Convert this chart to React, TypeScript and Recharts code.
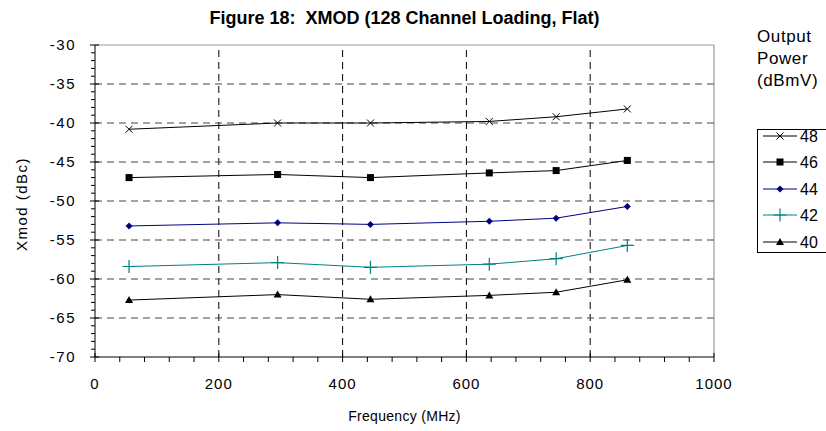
import { LineChart, Line, XAxis, YAxis, ReferenceLine } from 'recharts'

const frequencies = [55, 295, 445, 637, 745, 860]
const xmod48 = [-40.8, -40.0, -40.0, -39.8, -39.2, -38.2]
const xmod46 = [-47.0, -46.6, -47.0, -46.4, -46.1, -44.8]
const xmod44 = [-53.2, -52.8, -53.0, -52.6, -52.2, -50.7]
const xmod42 = [-58.4, -57.9, -58.5, -58.1, -57.4, -55.7]
const xmod40 = [-62.7, -62.0, -62.6, -62.1, -61.7, -60.1]

const xMajor = [0, 200, 400, 600, 800, 1000]
const yMajor = [-70, -65, -60, -55, -50, -45, -40, -35, -30]
// minor ticks: 40 MHz and 1 dB
const xTicks = Array.from({ length: 26 }, (_, i) => i * 40)
const yTicks = Array.from({ length: 41 }, (_, i) => -70 + i)

const font = '"Liberation Sans", Arial, sans-serif'

const chartData = frequencies.map((f, i) => ({
  freq: f,
  p48: xmod48[i],
  p46: xmod46[i],
  p44: xmod44[i],
  p42: xmod42[i],
  p40: xmod40[i],
}))

type Marker = 'cross' | 'square' | 'diamond' | 'plus' | 'triangle'

function markerShape(kind: Marker, cx: number, cy: number, color: string, key?: string) {
  if (kind === 'cross') {
    const r = 3.5
    return (
      <path key={key} d={`M${cx - r},${cy - r}L${cx + r},${cy + r}M${cx - r},${cy + r}L${cx + r},${cy - r}`}
        stroke={color} strokeWidth={1} fill="none" />
    )
  }
  if (kind === 'square') {
    return <rect key={key} x={cx - 3.5} y={cy - 3.5} width={7} height={7} fill={color} />
  }
  if (kind === 'diamond') {
    return <path key={key} d={`M${cx},${cy - 3.5}L${cx + 3.5},${cy}L${cx},${cy + 3.5}L${cx - 3.5},${cy}Z`} fill={color} />
  }
  if (kind === 'plus') {
    const r = 6.5
    return (
      <path key={key} d={`M${cx - r},${cy}L${cx + r},${cy}M${cx},${cy - r}L${cx},${cy + r}`}
        stroke={color} strokeWidth={1.2} fill="none" />
    )
  }
  return <path key={key} d={`M${cx},${cy - 4}L${cx + 4},${cy + 3}L${cx - 4},${cy + 3}Z`} fill={color} />
}

const series: { key: string; label: string; color: string; marker: Marker }[] = [
  { key: 'p48', label: '48', color: '#000000', marker: 'cross' },
  { key: 'p46', label: '46', color: '#000000', marker: 'square' },
  { key: 'p44', label: '44', color: '#000080', marker: 'diamond' },
  { key: 'p42', label: '42', color: '#008080', marker: 'plus' },
  { key: 'p40', label: '40', color: '#000000', marker: 'triangle' },
]

function YTick(props: any) {
  const { x, y, payload } = props
  const v = payload.value as number
  const major = v % 5 === 0
  return (
    <g>
      <line x1={major ? x - 5 : x - 4} x2={major ? x + 4 : x} y1={y} y2={y} stroke="#000" />
      {major && (
        <text x={x - 19} y={y} dy={5} textAnchor="end" fontSize={15} letterSpacing={1.5} fontFamily={font} fill="#000">
          {v}
        </text>
      )}
    </g>
  )
}

function XTick(props: any) {
  const { x, y, payload } = props
  const v = payload.value as number
  const major = v % 200 === 0
  return (
    <g>
      <line x1={x} x2={x} y1={major ? y - 4 : y} y2={y + 5} stroke="#000" />
      {major && (
        <text x={x} y={y + 32} textAnchor="middle" fontSize={15} letterSpacing={1} fontFamily={font} fill="#000">
          {v}
        </text>
      )}
    </g>
  )
}

function LegendBox() {
  const rows = [6, 32, 59, 85, 112]
  return (
    <svg width={80} height={125} style={{ position: 'absolute', left: 757, top: 129 }}>
      <rect x={0.5} y={0.5} width={90} height={123} fill="#fff" stroke="#000" />
      {series.map((s, i) => (
        <g key={s.key}>
          <line x1={6} x2={40} y1={rows[i] + 1} y2={rows[i] + 1} stroke={s.color} />
          {markerShape(s.marker, 23, rows[i] + 1, s.color)}
          <text x={43} y={rows[i] + 7} fontSize={16} fontFamily={font} fill="#000">
            {s.label}
          </text>
        </g>
      ))}
    </svg>
  )
}

export default function App() {
  return (
    <div style={{ position: 'absolute', left: 0, top: 0, width: 826, height: 431, background: '#fff', fontFamily: font }}>
      <div style={{ position: 'absolute', left: 95, width: 619, top: 8, textAlign: 'center', fontSize: 18, fontWeight: 'bold' }}>
        Figure 18:&nbsp; XMOD (128 Channel Loading, Flat)
      </div>
      <div style={{ position: 'absolute', left: 757, top: 26, fontSize: 17, lineHeight: '22px', letterSpacing: 0.6 }}>
        Output
        <br />
        Power
        <br />
        (dBmV)
      </div>
      <LineChart width={826} height={431} data={chartData} margin={{ top: 45, right: 112, bottom: 0, left: 0 }}>
        <XAxis
          dataKey="freq"
          type="number"
          domain={[0, 1000]}
          ticks={xTicks}
          interval={0}
          tickSize={0}
          tickMargin={0}
          tickLine={false}
          tick={<XTick />}
          height={74}
          axisLine={{ stroke: '#000' }}
          label={() => (
            <text x={404.5} y={421} textAnchor="middle" fontSize={14} letterSpacing={0.3} fontFamily={font} fill="#000">
              Frequency (MHz)
            </text>
          )}
        />
        <YAxis
          type="number"
          domain={[-70, -30]}
          ticks={yTicks}
          interval={0}
          tickSize={0}
          tickMargin={0}
          tickLine={false}
          tick={<YTick />}
          width={95}
          axisLine={{ stroke: '#000' }}
          label={() => (
            <text x={27} y={204} transform="rotate(-90 27 204)" textAnchor="middle" fontSize={15} letterSpacing={1.5} fontFamily={font} fill="#000">
              Xmod (dBc)
            </text>
          )}
        />
        {xMajor.slice(1, 5).map((v) => (
          <ReferenceLine key={'vx' + v} x={v} stroke="#000" strokeDasharray="7 5" />
        ))}
        {yMajor.slice(1, 8).map((v) => (
          <ReferenceLine key={'hy' + v} y={v} stroke="#444" strokeDasharray="7 5" />
        ))}
        <ReferenceLine y={-30} stroke="#999" />
        <ReferenceLine x={1000} stroke="#888" />
        {series.map((s) => (
          <Line
            key={s.key}
            dataKey={s.key}
            type="linear"
            stroke={s.color}
            strokeWidth={1}
            isAnimationActive={false}
            dot={(p: any) => markerShape(s.marker, p.cx, p.cy, s.color, s.key + p.index)}
            activeDot={false}
          />
        ))}
      </LineChart>
      <LegendBox />
    </div>
  )
}
